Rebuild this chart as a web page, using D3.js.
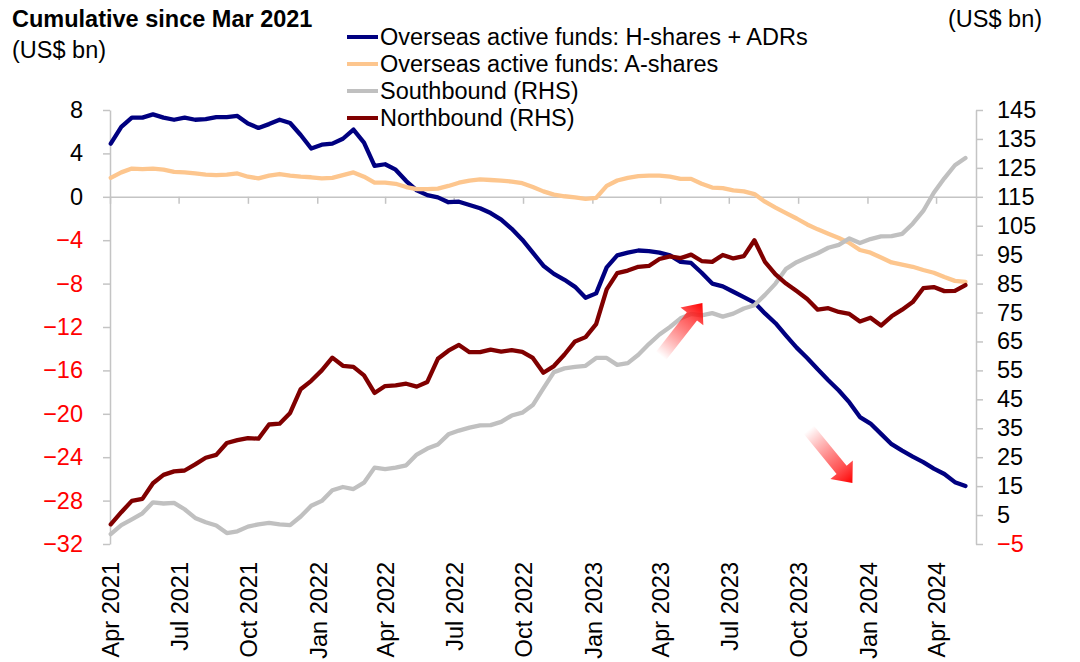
<!DOCTYPE html>
<html><head><meta charset="utf-8">
<script src="https://cdn.jsdelivr.net/npm/d3@7"></script>
<style>
body{margin:0;background:#fff}
text{font-family:"Liberation Sans",Arial,sans-serif}
</style>
</head><body>
<svg id="chart" width="1080" height="662"></svg>
<script>
// ---- data (biweekly observations, cumulative since Mar 2021, US$ bn) ----
const firstObs = "2021-04-02";
const stepDays = 14;
const hSharesADRs = [4.9,6.45,7.3,7.3,7.6,7.3,7.1,7.3,7.1,7.15,7.35,7.35,7.45,6.75,6.35,6.7,7.1,6.8,5.7,4.45,
  4.8,4.9,5.35,6.2,5.0,2.85,3.0,2.5,1.45,0.6,0.15,-0.05,-0.5,-0.45,-0.75,-1.05,-1.5,-2.1,-2.95,-3.95,
  -5.15,-6.35,-7.1,-7.65,-8.3,-9.3,-8.9,-6.5,-5.4,-5.15,-4.95,-5.0,-5.15,-5.4,-6.0,-6.1,-7.0,-8.0,-8.25,-8.75,
  -9.25,-9.75,-10.75,-11.65,-12.8,-13.9,-14.85,-15.9,-16.9,-17.85,-18.95,-20.3,-20.9,-21.85,-22.8,-23.4,-23.95,-24.45,-25.05,-25.55,
  -26.3,-26.65];
const aShares = [1.75,2.25,2.6,2.55,2.6,2.5,2.3,2.25,2.15,2.05,2.0,2.05,2.15,1.85,1.7,1.95,2.1,1.95,1.85,1.8,
  1.7,1.75,2.0,2.25,1.85,1.3,1.3,1.2,0.9,0.7,0.7,0.75,1.0,1.3,1.5,1.6,1.55,1.5,1.4,1.25,
  0.9,0.5,0.2,0.05,-0.05,-0.2,-0.1,1.0,1.5,1.75,1.9,1.95,1.95,1.85,1.65,1.65,1.2,0.85,0.8,0.6,
  0.5,0.25,-0.45,-1.0,-1.5,-2.0,-2.55,-3.0,-3.4,-3.8,-4.25,-4.9,-5.15,-5.6,-6.05,-6.25,-6.45,-6.75,-7.0,-7.4,
  -7.75,-7.85];
const southbound = [-1.6,1.5,3.5,5.6,9.4,9.0,9.2,7.0,4.0,2.5,1.4,-1.2,-0.6,1.0,1.8,2.3,1.8,1.5,4.5,8.2,
  9.9,13.6,14.7,14.0,16.2,21.4,20.9,21.4,22.2,25.9,28.0,29.4,32.9,34.2,35.2,36.0,36.1,37.2,39.4,40.4,
  43.0,48.8,54.4,55.7,56.2,56.6,59.3,59.3,56.9,57.5,60.4,64.1,67.4,70.0,73.0,74.5,74.0,74.8,73.6,74.6,
  76.4,77.5,81.1,85.0,90.1,92.4,94.0,95.5,97.4,98.4,100.6,99.0,100.4,101.3,101.4,102.2,105.7,110.1,116.4,121.4,
  125.9,128.4];
const northbound = [1.8,6.0,9.9,10.6,16.0,18.9,20.1,20.4,22.5,24.8,25.8,29.9,30.9,31.6,31.4,36.3,36.6,40.3,48.5,51.4,
  55.0,59.4,56.6,56.2,53.3,47.2,49.6,49.8,50.4,49.4,51.0,59.0,61.8,63.8,61.3,61.3,62.2,61.5,62.0,61.4,
  59.3,54.2,56.5,60.5,65.0,66.5,71.0,83.0,88.6,89.5,90.8,91.1,93.5,94.4,93.8,95.0,92.8,92.5,94.9,93.7,
  94.5,100.0,92.5,88.2,85.0,82.4,79.7,76.0,76.5,75.2,74.5,71.9,73.2,70.5,73.7,76.0,78.6,83.4,83.8,82.4,
  82.5,84.5];

const leftTicks = [8,4,0,-4,-8,-12,-16,-20,-24,-28,-32];
const rightTicks = [145,135,125,115,105,95,85,75,65,55,45,35,25,15,5,-5];
const quarterDates = ["2021-04-01","2021-07-01","2021-10-01","2022-01-01","2022-04-01","2022-07-01","2022-10-01",
  "2023-01-01","2023-04-01","2023-07-01","2023-10-01","2024-01-01","2024-04-01"];
const quarterLabels = ["Apr 2021","Jul 2021","Oct 2021","Jan 2022","Apr 2022","Jul 2022","Oct 2022",
  "Jan 2023","Apr 2023","Jul 2023","Oct 2023","Jan 2024","Apr 2024"];
const seriesNames = ["Overseas active funds: H-shares + ADRs","Overseas active funds: A-shares","Southbound (RHS)","Northbound (RHS)"];
const seriesColors = ["#000080","#fdc68e","#c0c0c0","#800000"];
// annotation arrows: [tail date, tail RHS value] -> [tip date, tip RHS value]
const arrows = [
  {from:["2023-04-02",60.0], to:["2023-05-27",78.3]},
  {from:["2023-10-15",34.5], to:["2023-12-12",16.1]}
];

// ---- setup ----
const parse = d3.timeParse("%Y-%m-%d");
const svg = d3.select("#chart");
const dates = hSharesADRs.map((_, i) => d3.timeDay.offset(parse(firstObs), i * stepDays));

const x = d3.scaleTime().domain([parse("2021-04-01"), parse("2024-05-24")]).range([110, 976]);
const yL = d3.scaleLinear().domain([-32, 8]).range([544, 110]);
const yR = d3.scaleLinear().domain([-5, 145]).range([544, 110]);
const axisColor = "#c4c4c4";
const fs = "23.5px";

// left axis
const gL = svg.append("g").attr("transform", "translate(110,0)")
  .call(d3.axisLeft(yL).tickValues(leftTicks).tickSize(7).tickSizeOuter(0).tickPadding(20).tickFormat(d3.format("d")));
// right axis
const gR = svg.append("g").attr("transform", "translate(976,0)")
  .call(d3.axisRight(yR).tickValues(rightTicks).tickSize(7).tickSizeOuter(0).tickPadding(14).tickFormat(d3.format("d")));
[gL, gR].forEach(g => {
  g.select(".domain").attr("stroke", axisColor).attr("stroke-width", 1.5);
  g.selectAll(".tick line").attr("stroke", axisColor).attr("stroke-width", 1.5);
  g.selectAll(".tick text").attr("font-size", fs).attr("font-family", '"Liberation Sans",Arial,sans-serif')
    .attr("fill", d => d < 0 ? "#ff0000" : "#000");
});
// x axis along zero line
const gX = svg.append("g").attr("transform", `translate(0,${yL(0)})`)
  .call(d3.axisBottom(x).tickValues(quarterDates.map(parse)).tickSize(7).tickSizeOuter(0).tickFormat(""));
gX.select(".domain").attr("stroke", axisColor).attr("stroke-width", 1.5);
gX.selectAll(".tick line").attr("stroke", axisColor).attr("stroke-width", 1.5);

// x labels at bottom (rotated)
svg.append("g").selectAll("text").data(quarterDates).join("text")
  .attr("transform", d => `translate(${x(parse(d)) + 1},562) rotate(-90)`)
  .attr("text-anchor", "end").attr("dy", "0.35em").attr("font-size", fs).attr("fill", "#000")
  .text((d, i) => quarterLabels[i]);

// lines
const mk = (scale) => d3.line().x((d, i) => x(dates[i])).y(v => scale(v));
const seriesData = [[hSharesADRs, yL], [aShares, yL], [southbound, yR], [northbound, yR]];
seriesData.forEach(([vals, sc], k) => {
  svg.append("path").datum(vals).attr("d", mk(sc)).attr("fill", "none")
    .attr("stroke", seriesColors[k]).attr("stroke-width", 4.3)
    .attr("stroke-linejoin", "round").attr("stroke-linecap", "round");
});

// arrows
const defs = svg.append("defs");
arrows.forEach((a, k) => {
  const x0 = x(parse(a.from[0])), y0 = yR(a.from[1]);
  const x1 = x(parse(a.to[0])), y1 = yR(a.to[1]);
  const L = Math.hypot(x1 - x0, y1 - y0);
  const ang = Math.atan2(y1 - y0, x1 - x0) * 180 / Math.PI;
  const gid = "ag" + k;
  const grad = defs.append("linearGradient").attr("id", gid).attr("gradientUnits", "userSpaceOnUse")
    .attr("x1", 0).attr("y1", 0).attr("x2", L).attr("y2", 0);
  grad.append("stop").attr("offset", 0).attr("stop-color", "#ff0000").attr("stop-opacity", 0);
  grad.append("stop").attr("offset", 0.7).attr("stop-color", "#ff2020").attr("stop-opacity", 0.75);
  grad.append("stop").attr("offset", 1).attr("stop-color", "#ff0000").attr("stop-opacity", 1);
  const w = 6.5, hw = 14.5, hl = 17;
  const pts = [[0,-w],[L-hl,-w],[L-hl,-hw],[L,0],[L-hl,hw],[L-hl,w],[0,w]];
  svg.append("path").attr("transform", `translate(${x0},${y0}) rotate(${ang})`)
    .attr("d", "M" + pts.map(p => p.join(",")).join("L") + "Z").attr("fill", `url(#${gid})`);
});

// legend
const lg = svg.append("g");
seriesNames.forEach((n, i) => {
  const yy = 37 + i * 27;
  lg.append("line").attr("x1", 347).attr("x2", 378).attr("y1", yy).attr("y2", yy)
    .attr("stroke", seriesColors[i]).attr("stroke-width", 4);
  lg.append("text").attr("x", 380).attr("y", yy).attr("dy", "0.35em").attr("font-size", fs).attr("fill", "#000").text(n);
});

// titles
svg.append("text").attr("x", 12).attr("y", 27).attr("font-size", fs).attr("font-weight", "bold").text("Cumulative since Mar 2021");
svg.append("text").attr("x", 12).attr("y", 58).attr("font-size", fs).text("(US$ bn)");
svg.append("text").attr("x", 948).attr("y", 27).attr("font-size", fs).text("(US$ bn)");
</script>
</body></html>
